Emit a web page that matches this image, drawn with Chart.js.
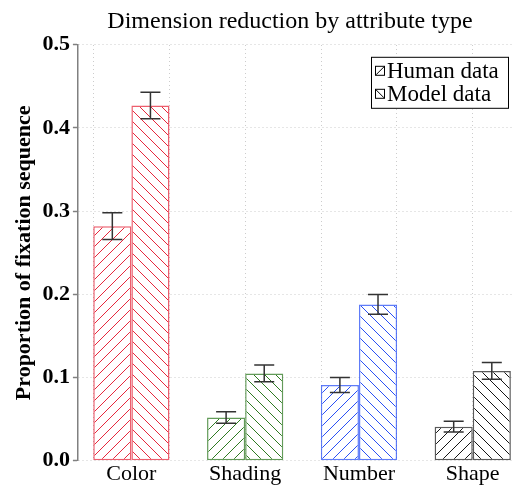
<!DOCTYPE html>
<html>
<head>
<meta charset="utf-8">
<script src="https://cdn.jsdelivr.net/npm/chart.js@4.4.1/dist/chart.umd.min.js"></script>
<style>
    html, body { margin: 0; padding: 0; background: #fff; }
</style>
</head>
<body>
<canvas id="graficoBarras" width="514" height="487"></canvas>
<script>
// datos
const categorias = ['Color', 'Shading', 'Number', 'Shape'];
const humanData = [0.282, 0.052, 0.091, 0.041];
const humanErr = [0.016, 0.007, 0.009, 0.0065];
const modelData = [0.427, 0.105, 0.188, 0.108];
const modelErr = [0.016, 0.010, 0.012, 0.010];
const yTicks = [0, 0.1, 0.2, 0.3, 0.4, 0.5];
const coloresCat = ['#e6283c', '#2f7a22', '#2a50f5', '#151515'];
const bordesCat = ['rgba(230,40,60,0.75)', 'rgba(47,122,34,0.75)', 'rgba(42,80,245,0.75)', 'rgba(21,21,21,0.7)'];

const FUENTE = '"Liberation Serif", "Times New Roman", serif';

// patron de rayado
function rayado(color, dir) {
    const s = 11;
    const c = document.createElement('canvas');
    c.width = s; c.height = s;
    const g = c.getContext('2d');
    g.fillStyle = '#fff';
    g.fillRect(0, 0, s, s);
    g.strokeStyle = color;
    g.lineWidth = 1;
    g.beginPath();
    if (dir === '/') {
        g.moveTo(0, s); g.lineTo(s, 0);
        g.moveTo(-1, 1); g.lineTo(1, -1);
        g.moveTo(s - 1, s + 1); g.lineTo(s + 1, s - 1);
    } else {
        g.moveTo(0, 0); g.lineTo(s, s);
        g.moveTo(-1, s - 1); g.lineTo(1, s + 1);
        g.moveTo(s - 1, -1); g.lineTo(s + 1, 1);
    }
    g.stroke();
    return g.createPattern(c, 'repeat');
}

const barrasError = {
    id: 'barrasError',
    afterDatasetsDraw(chart) {
        const ctx = chart.ctx;
        const y = chart.scales.y;
        const errores = [humanErr, modelErr];
        ctx.save();
        ctx.strokeStyle = '#333';
        ctx.lineWidth = 1.5;
        chart.data.datasets.forEach((ds, d) => {
            chart.getDatasetMeta(d).data.forEach((bar, i) => {
                const v = ds.data[i].y;
                const e = errores[d][i];
                const top = y.getPixelForValue(v + e);
                const bot = y.getPixelForValue(v - e);
                ctx.beginPath();
                ctx.moveTo(bar.x, top); ctx.lineTo(bar.x, bot);
                ctx.moveTo(bar.x - 10, top); ctx.lineTo(bar.x + 10, top);
                ctx.moveTo(bar.x - 10, bot); ctx.lineTo(bar.x + 10, bot);
                ctx.stroke();
            });
        });
        ctx.restore();
    }
};

// titulo centrado sobre el area del grafico
const centrarTitulo = {
    id: 'centrarTitulo',
    afterLayout(chart) {
        if (chart.titleBlock) {
            chart.titleBlock.left = chart.chartArea.left;
            chart.titleBlock.right = chart.chartArea.right - 10;
        }
    }
};

const leyenda = {
    id: 'leyenda',
    afterDraw(chart) {
        const ctx = chart.ctx;
        const area = chart.chartArea;
        const w = 137, h = 51;
        const x0 = area.right - 4 - w;
        const y0 = area.top + 12;
        ctx.save();
        ctx.fillStyle = '#fff';
        ctx.fillRect(x0, y0, w, h);
        ctx.strokeStyle = '#000';
        ctx.lineWidth = 1;
        ctx.strokeRect(x0 + 0.5, y0 + 0.5, w, h);
        ctx.font = 'normal normal 23px ' + FUENTE;
        ctx.textBaseline = 'middle';
        ctx.fillStyle = '#000';
        chart.data.datasets.forEach((ds, d) => {
            const cy = y0 + 14 + d * 23;
            const sx = x0 + 4, sy = cy - 5;
            ctx.strokeRect(sx + 0.5, sy + 0.5, 9, 9);
            ctx.beginPath();
            if (d === 0) { ctx.moveTo(sx + 1, sy + 9); ctx.lineTo(sx + 9, sy + 1); }
            else { ctx.moveTo(sx + 1, sy + 1); ctx.lineTo(sx + 9, sy + 9); }
            ctx.stroke();
            ctx.fillText(ds.label, x0 + 16, cy + 1);
        });
        ctx.restore();
    }
};

const ctx = document.getElementById('graficoBarras').getContext('2d');
new Chart(ctx, {
    type: 'bar',
    data: {
        datasets: [{
            label: 'Human data',
            data: humanData.map((v, i) => ({x: i, y: v})),
            backgroundColor: coloresCat.map(c => rayado(c, '/')),
            borderColor: bordesCat,
            borderWidth: 1.5,
            borderSkipped: false,
            categoryPercentage: 0.67,
            barPercentage: 1
        }, {
            label: 'Model data',
            data: modelData.map((v, i) => ({x: i, y: v})),
            backgroundColor: coloresCat.map(c => rayado(c, '\\')),
            borderColor: bordesCat,
            borderWidth: 1.5,
            borderSkipped: false,
            categoryPercentage: 0.67,
            barPercentage: 1
        }]
    },
    options: {
        responsive: false,
        animation: false,
        devicePixelRatio: 1,
        layout: { padding: { left: 11, right: 2, top: 0, bottom: 0 } },
        plugins: {
            legend: { display: false },
            tooltip: { enabled: false },
            title: {
                display: true,
                text: 'Dimension reduction by attribute type',
                color: '#000',
                font: { family: FUENTE, size: 24, weight: 'normal' },
                padding: { top: 7, bottom: 9 }
            }
        },
        scales: {
            x: {
                type: 'linear',
                offset: false,
                min: -0.47,
                max: 3.345,
                afterBuildTicks: s => { s.ticks = categorias.map((c, i) => ({value: i})); },
                ticks: {
                    color: '#000',
                    font: { family: FUENTE, size: 22, lineHeight: 1.1 },
                    padding: 1,
                    callback: v => categorias[v]
                },
                grid: { display: false, drawTicks: false },
                border: { display: false }
            },
            x2: {
                type: 'linear',
                position: 'top',
                offset: false,
                min: -0.47,
                max: 3.345,
                afterBuildTicks: s => { s.ticks = [0, 1, 2, 3, 4, 5].map(k => ({value: k * 2 / 3})); },
                ticks: { display: false },
                grid: { color: '#cccccc', lineWidth: 1, drawTicks: false },
                border: { display: false, dash: [1, 3] }
            },
            y: {
                min: 0,
                max: 0.5,
                afterBuildTicks: s => { s.ticks = yTicks.map(v => ({value: v})); },
                ticks: {
                    color: '#000',
                    font: { family: FUENTE, size: 22, weight: 'bold' },
                    padding: 3,
                    callback: v => v.toFixed(1)
                },
                grid: { color: '#cccccc', lineWidth: 1, tickColor: '#808080', tickLength: 5, tickWidth: 1.5 },
                border: { color: '#808080', width: 1.5, dash: [1, 3] },
                title: {
                    display: true,
                    text: 'Proportion of fixation sequence',
                    color: '#000',
                    font: { family: FUENTE, size: 22, weight: 'bold' },
                    padding: { top: 0, bottom: 2 }
                }
            }
        }
    },
    plugins: [barrasError, centrarTitulo, leyenda]
});
</script>
</body>
</html>
